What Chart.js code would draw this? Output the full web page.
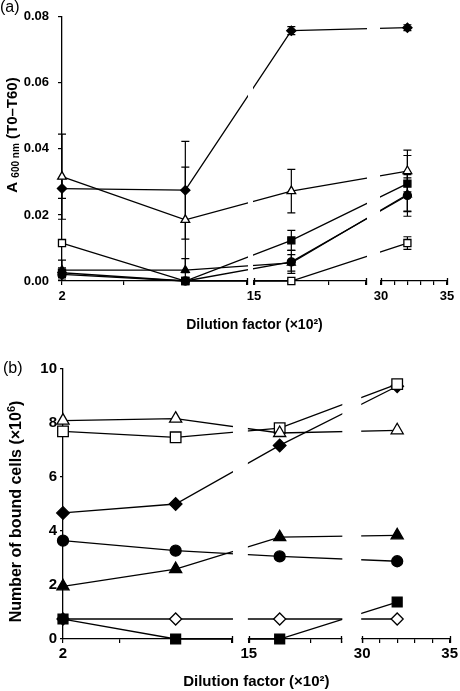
<!DOCTYPE html>
<html>
<head>
<meta charset="utf-8">
<script src="https://cdn.jsdelivr.net/npm/chart.js@4/dist/chart.umd.min.js"></script>
<style>
    html, body { margin: 0; padding: 0; background: #fff; }
    #wrap { position: relative; width: 460px; height: 691px; }
    canvas { position: absolute; left: 0; }
    #chartA { top: 0; }
    #chartB { top: 340px; }
</style>
</head>
<body>
<div id="wrap">
    <canvas id="chartA" width="460" height="340"></canvas>
    <canvas id="chartB" width="460" height="351"></canvas>
</div>
<script>
// Dilution factor (x10^2) of each measurement
const dilutions = [2, 8, 16, 32];

// Broken x axis: ticks and which of them carry a label
const xTickValues = [2, 5, 8, 11, 15, 17, 18, 30, 31, 32, 33, 34, 35];
const xLabelTicks = [2, 15, 30, 35];

// (a) A600nm (T0-T60), mean and error
const absFilledDiamond  = [0.0280, 0.0275, 0.0758, 0.0767];
const absFilledDiamondErr = [0.0030, 0.0148, 0.0012, 0.0009];
const absOpenTriangle   = [0.0316, 0.0185, 0.0272, 0.0333];
const absOpenTriangleErr = [0.0129, 0.0160, 0.0066, 0.0063];
const absOpenSquare     = [0.0115, 0.0000, 0.0000, 0.0115];
const absOpenSquareErr  = [0.0000, 0.0000, 0.0000, 0.0019];
const absFilledSquare   = [0.0025, 0.0000, 0.0123, 0.0295];
const absFilledSquareErr = [0.0015, 0.0000, 0.0030, 0.0085];
const absFilledCircle   = [0.0020, 0.0000, 0.0058, 0.0259];
const absFilledCircleErr = [0.0010, 0.0000, 0.0035, 0.0063];
const absFilledTriangle = [0.0033, 0.0033, 0.0055, 0.0262];
const absFilledTriangleErr = [0.0030, 0.0035, 0.0025, 0.0050];

// (b) number of bound cells (x10^6)
const cellsOpenTriangle   = [8.09, 8.16, 7.63, 7.73];
const cellsOpenSquare     = [7.69, 7.47, 7.81, 9.44];
const cellsFilledDiamond  = [4.67, 5.00, 7.17, 9.36];
const cellsFilledTriangle = [1.95, 2.59, 3.77, 3.84];
const cellsFilledCircle   = [3.64, 3.27, 3.06, 2.88];
const cellsFilledSquare   = [0.74, 0.00, 0.00, 1.37];
const cellsOpenDiamond    = [0.74, 0.74, 0.74, 0.74];

const FONT = "'Liberation Sans', Arial, Helvetica, sans-serif";
Chart.defaults.font.family = FONT;
Chart.defaults.color = '#000';

// Linear scale split in pieces: each piece takes a fraction of the axis width
class BrokenLinearScale extends Chart.LinearScale {
    static id = 'brokenLinear';
    static defaults = {};

    buildTicks() {
        const vals = this.options.tickValues;
        this.min = vals[0];
        this.max = vals[vals.length - 1];
        return vals.map(v => ({ value: v }));
    }

    toDecimal(v) {
        const segs = this.options.segments;
        for (let i = 0; i < segs.length; i++) {
            const g = segs[i];
            if (v <= g.max || i === segs.length - 1) {
                if (v >= g.min || i === 0) {
                    return g.from + (v - g.min) / (g.max - g.min) * (g.to - g.from);
                }
                const p = segs[i - 1];
                return p.to + (v - p.max) / (g.min - p.max) * (g.from - p.to);
            }
        }
        return 0;
    }

    getPixelForValue(value) {
        if (value === null || value === undefined) return NaN;
        return this.getPixelForDecimal(this.toDecimal(value));
    }

    getValueForPixel(pixel) {
        const d = this.getDecimalForPixel(pixel);
        const segs = this.options.segments;
        for (let i = 0; i < segs.length; i++) {
            const g = segs[i];
            if (d <= g.to || i === segs.length - 1) {
                return g.min + (d - g.from) / (g.to - g.from) * (g.max - g.min);
            }
        }
        return this.min;
    }
}
Chart.register(BrokenLinearScale);

const MARKERS = {
    filledDiamond:  { shape: 'rectRot',  fill: '#000' },
    openDiamond:    { shape: 'rectRot',  fill: '#fff' },
    filledTriangle: { shape: 'triangle', fill: '#000' },
    openTriangle:   { shape: 'triangle', fill: '#fff' },
    filledSquare:   { shape: 'rect',     fill: '#000' },
    openSquare:     { shape: 'rect',     fill: '#fff' },
    filledCircle:   { shape: 'circle',   fill: '#000' }
};

function series(label, values, marker, radius, errors) {
    const m = MARKERS[marker];
    return {
        label: label,
        data: dilutions.map((d, i) => ({ x: d, y: values[i] })),
        errorBars: errors || null,
        borderColor: '#000',
        borderWidth: 1.3,
        pointStyle: m.shape,
        pointRadius: radius,
        pointBackgroundColor: m.fill,
        pointBorderColor: '#000',
        pointBorderWidth: 1.3,
        tension: 0,
        fill: false,
        clip: false
    };
}

// draws error bars, the axis breaks, panel letter and the rich y title
function panelPlugin(cfg) {
    return {
        id: 'panelDecor',
        beforeDatasetsDraw(chart) {
            const ctx = chart.ctx;
            const xs = chart.scales.x, ys = chart.scales.y;
            ctx.save();
            ctx.strokeStyle = '#000';
            ctx.lineWidth = 1.2;
            chart.data.datasets.forEach(ds => {
                if (!ds.errorBars) return;
                ds.errorBars.forEach((err, i) => {
                    if (!err) return;
                    const px = xs.getPixelForValue(dilutions[i]);
                    const v = ds.data[i].y;
                    const top = ys.getPixelForValue(v + err);
                    const bot = ys.getPixelForValue(v - err);
                    ctx.beginPath();
                    ctx.moveTo(px, top); ctx.lineTo(px, bot);
                    ctx.moveTo(px - cfg.cap, top); ctx.lineTo(px + cfg.cap, top);
                    ctx.moveTo(px - cfg.cap, bot); ctx.lineTo(px + cfg.cap, bot);
                    ctx.stroke();
                });
            });
            ctx.restore();
        },
        afterDatasetsDraw(chart) {
            // blank out the breaks of the x axis
            const ctx = chart.ctx, xs = chart.scales.x, area = chart.chartArea;
            const segs = cfg.segments;
            ctx.save();
            ctx.fillStyle = '#fff';
            for (let i = 0; i < segs.length - 1; i++) {
                const x0 = xs.getPixelForValue(segs[i].max);
                const x1 = xs.getPixelForValue(segs[i + 1].min);
                ctx.fillRect(x0 + 1, area.top - 14, x1 - x0 - 2, area.bottom - area.top + 16);
            }
            ctx.restore();
        },
        afterDraw(chart) {
            const ctx = chart.ctx, xs = chart.scales.x, area = chart.chartArea;
            const segs = cfg.segments;
            ctx.save();
            ctx.strokeStyle = '#000';
            ctx.lineWidth = 1.3;
            ctx.beginPath();
            segs.forEach((g, i) => {
                [g.min, g.max].forEach((v, k) => {
                    if (i === 0 && k === 0) return;
                    const px = Math.round(xs.getPixelForValue(v)) + 0.5;
                    ctx.moveTo(px, area.bottom - 3);
                    ctx.lineTo(px, area.bottom + 4);
                });
            });
            ctx.stroke();

            // panel letter
            ctx.fillStyle = '#000';
            ctx.font = `16px ${FONT}`;
            ctx.textAlign = 'left';
            ctx.textBaseline = 'middle';
            ctx.fillText(cfg.letter, cfg.letterX, cfg.letterY);

            // rotated y title made of parts with their own size
            ctx.translate(cfg.titleX, cfg.titleY);
            ctx.rotate(-Math.PI / 2);
            ctx.textBaseline = 'alphabetic';
            let total = 0;
            const widths = cfg.title.map(p => {
                ctx.font = `bold ${p.size}px ${FONT}`;
                const w = ctx.measureText(p.text).width;
                total += w;
                return w;
            });
            let x = -total / 2;
            cfg.title.forEach((p, i) => {
                ctx.font = `bold ${p.size}px ${FONT}`;
                ctx.fillText(p.text, x, cfg.titleBase + p.dy);
                x += widths[i];
            });
            ctx.restore();
        }
    };
}

function brokenXAxis(segments, fontSize, tickPad, height, titleSize, titlePadBottom) {
    return {
        type: 'brokenLinear',
        segments: segments,
        tickValues: xTickValues,
        grid: { drawOnChartArea: false, drawTicks: true, tickLength: 4, color: '#000', lineWidth: 1.2 },
        border: { color: '#000', width: 1.3 },
        ticks: {
            autoSkip: false,
            maxRotation: 0,
            padding: tickPad,
            color: '#000',
            font: { size: fontSize, weight: 'bold' },
            callback: v => xLabelTicks.includes(v) ? String(v) : ''
        },
        title: {
            display: true,
            text: 'Dilution factor (×10²)',
            color: '#000',
            font: { size: titleSize, weight: 'bold' },
            padding: { top: 0, bottom: titlePadBottom }
        },
        afterFit: s => { s.height = height; }
    };
}

// ---------- panel (a) ----------
const segmentsA = [
    { min: 2,  max: 11, from: 0,      to: 0.4805 },
    { min: 15, max: 18, from: 0.4987, to: 0.7896 },
    { min: 30, max: 35, from: 0.8286, to: 1 }
];

new Chart(document.getElementById('chartA'), {
    type: 'line',
    data: {
        datasets: [
            series('filled diamond', absFilledDiamond, 'filledDiamond', 4.6, absFilledDiamondErr),
            series('open triangle', absOpenTriangle, 'openTriangle', 5, absOpenTriangleErr),
            series('filled square', absFilledSquare, 'filledSquare', 5, absFilledSquareErr),
            series('open square', absOpenSquare, 'openSquare', 5, absOpenSquareErr),
            series('filled circle', absFilledCircle, 'filledCircle', 4, absFilledCircleErr),
            series('filled triangle', absFilledTriangle, 'filledTriangle', 4.6, absFilledTriangleErr)
        ]
    },
    options: {
        responsive: false,
        animation: false,
        events: [],
        layout: { padding: { top: 8, right: 13, bottom: 0, left: 0 } },
        plugins: { legend: { display: false }, tooltip: { enabled: false } },
        scales: {
            x: brokenXAxis(segmentsA, 13, 4, 59, 14, 6.6),
            y: {
                min: 0,
                max: 0.08,
                grid: { drawOnChartArea: false, drawTicks: true, tickLength: 4, color: '#000', lineWidth: 1.2 },
                border: { color: '#000', width: 1.3 },
                ticks: {
                    stepSize: 0.02,
                    padding: 9,
                    color: '#000',
                    font: { size: 13, weight: 'bold' },
                    callback: v => v.toFixed(2)
                },
                afterFit: s => { s.width = 62; }
            }
        }
    },
    plugins: [panelPlugin({
        segments: segmentsA,
        cap: 4,
        letter: '(a)', letterX: 0, letterY: 8,
        titleX: 12, titleY: 135, titleBase: 5,
        title: [
            { text: 'A ', size: 15, dy: 0 },
            { text: '600 nm', size: 10, dy: 2 },
            { text: ' (T0–T60)', size: 15, dy: 0 }
        ]
    })]
});

// ---------- panel (b) ----------
const segmentsB = [
    { min: 2,  max: 11, from: 0,      to: 0.4370 },
    { min: 15, max: 18, from: 0.4807, to: 0.7198 },
    { min: 30, max: 35, from: 0.7738, to: 1 }
];

new Chart(document.getElementById('chartB'), {
    type: 'line',
    data: {
        datasets: [
            series('open triangle', cellsOpenTriangle, 'openTriangle', 7, null),
            series('open square', cellsOpenSquare, 'openSquare', 7.5, null),
            series('filled diamond', cellsFilledDiamond, 'filledDiamond', 6.3, null),
            series('filled triangle', cellsFilledTriangle, 'filledTriangle', 7, null),
            series('filled circle', cellsFilledCircle, 'filledCircle', 5.5, null),
            series('filled square', cellsFilledSquare, 'filledSquare', 7, null),
            series('open diamond', cellsOpenDiamond, 'openDiamond', 6, null)
        ]
    },
    options: {
        responsive: false,
        animation: false,
        events: [],
        layout: { padding: { top: 29, right: 8, bottom: 0, left: 0 } },
        plugins: { legend: { display: false }, tooltip: { enabled: false } },
        scales: {
            x: brokenXAxis(segmentsB, 15, 2, 52, 15, 0),
            y: {
                min: 0,
                max: 10,
                grid: { drawOnChartArea: false, drawTicks: true, tickLength: 3, color: '#000', lineWidth: 1.2 },
                border: { color: '#000', width: 1.3 },
                ticks: {
                    stepSize: 2,
                    padding: 3,
                    color: '#000',
                    font: { size: 15, weight: 'bold' }
                },
                afterFit: s => { s.width = 63; }
            }
        }
    },
    plugins: [panelPlugin({
        segments: segmentsB,
        cap: 0,
        letter: '(b)', letterX: 3, letterY: 29,
        titleX: 14.5, titleY: 171.5, titleBase: 6,
        title: [
            { text: 'Number of bound cells (×10', size: 16, dy: 0 },
            { text: '6', size: 11, dy: -6 },
            { text: ')', size: 16, dy: 0 }
        ]
    })]
});
</script>
</body>
</html>
